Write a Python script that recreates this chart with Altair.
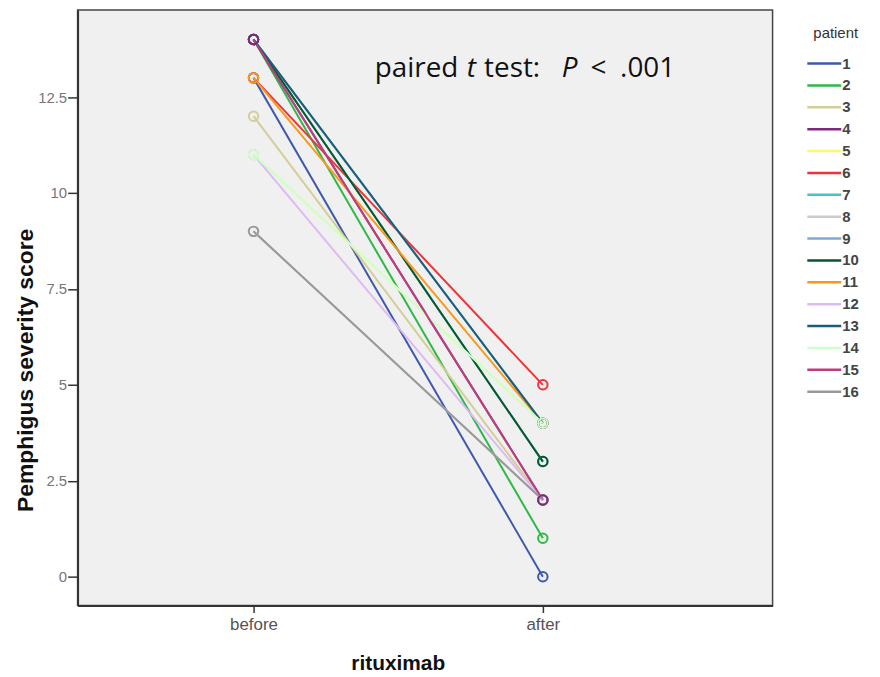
import altair as alt
import pandas as pd

# ---- data ----
patients = [str(p) for p in range(1, 17)]
phases = ["before", "after"]
score_before = [13, 14, 12, 14, 11, 13, 14, 9, 14, 14, 13, 11, 14, 11, 14, 9]
score_after = [0, 1, 2, 2, 4, 5, 3, 2, 4, 3, 4, 2, 4, 4, 2, 2]
patient_colors = ["#3E58AC", "#2EB848", "#D3CE97", "#7C287D", "#FBF873", "#EF3338",
                  "#48C2C5", "#CCCCCC", "#7AAAD5", "#0A562C", "#F8981D", "#DDBAF1",
                  "#1A5F76", "#CCFFCC", "#BB3F7F", "#999999"]
annot_pieces = ["paired", "t", "test:", "P", "<", ".001"]
annot_italic = [False, True, False, True, False, False]

rows = []
for i, p in enumerate(patients):
    for j, (ph, val) in enumerate(zip(phases, [score_before[i], score_after[i]])):
        rows.append({"patient": p, "phase": ph, "phase_idx": j, "score": val,
                     "z": 17 if p == "4" else int(p)})
df = pd.DataFrame(rows)

annot_x = [0.419, 0.737, 0.797, 1.065, 1.165, 1.267]
annot = pd.DataFrame({"text": annot_pieces, "italic": annot_italic,
                      "x": annot_x, "y": [13.03] * len(annot_pieces)})

xscale = alt.Scale(domain=[-0.608, 1.794], nice=False, zero=False)
yscale = alt.Scale(domain=[-0.75, 14.77], nice=False, zero=False)
cscale = alt.Scale(domain=patients, range=patient_colors)

label_font = "Liberation Sans"

x_enc = alt.X("phase_idx:Q", scale=xscale,
              axis=alt.Axis(values=[0, 1],
                            labelExpr="datum.value == 0 ? 'before' : 'after'",
                            title="rituximab", grid=False,
                            titleFontSize=21, titleFontWeight="bold", titleColor="#111",
                            titleFont=label_font, titleX=322, titleY=58,
                            titleBaseline="middle", titleAlign="center",
                            labelFont=label_font, labelFontSize=17, labelColor="#555",
                            labelPadding=4,
                            tickSize=7, tickColor="#333", tickWidth=1.5,
                            domainColor="#333", domainWidth=2))
y_enc = alt.Y("score:Q", scale=yscale,
              axis=alt.Axis(values=[0, 2.5, 5, 7.5, 10, 12.5], format=".1~f",
                            title="Pemphigus severity score", grid=False,
                            titleFontSize=23, titleFontWeight="bold", titleColor="#111",
                            titleFont=label_font, titleX=-52, titleY=362,
                            titleAngle=-90, titleAlign="center", titleBaseline="middle",
                            labelFont=label_font, labelFontSize=15, labelColor="#777",
                            labelPadding=1,
                            tickSize=10, tickColor="#333", tickWidth=1.5,
                            domainColor="#333", domainWidth=2))

lines = alt.Chart(df).mark_line(strokeWidth=2).encode(
    x=x_enc, y=y_enc,
    color=alt.Color("patient:N", scale=cscale,
                    legend=alt.Legend(title="patient", orient="none",
                                      legendX=740, legendY=16,
                                      symbolType="M-1.8,0L1.8,0", symbolSize=360,
                                      symbolStrokeWidth=2.5,
                                      titleFont=label_font, titleFontSize=15,
                                      titleFontWeight="normal", titleColor="#333",
                                      titlePadding=12,
                                      labelFont=label_font, labelFontSize=15,
                                      labelFontWeight="bold", labelColor="#444",
                                      rowPadding=3, labelOffset=7)),
    detail="patient:N",
)

points = alt.Chart(df).mark_point(shape="circle", filled=False, size=90,
                                  strokeWidth=2, opacity=1).encode(
    x="phase_idx:Q", y="score:Q",
    color=alt.Color("patient:N", scale=cscale, legend=None),
    order=alt.Order("z:Q"),
)

txt_normal = alt.Chart(annot).transform_filter("!datum.italic").mark_text(
    font="Open Sans", fontSize=28, align="left", baseline="alphabetic", color="#111"
).encode(x="x:Q", y="y:Q", text="text:N")
txt_italic = alt.Chart(annot).transform_filter("datum.italic").mark_text(
    font="Open Sans", fontSize=28, fontStyle="italic", align="left",
    baseline="alphabetic", color="#111"
).encode(x="x:Q", y="y:Q", text="text:N")

chart = alt.layer(lines, points, txt_normal, txt_italic).properties(
    width=699, height=599,
    autosize=alt.AutoSizeParams(type="none"),
    padding={"left": 70, "top": 0, "right": 100, "bottom": 70},
    background="white",
).configure_view(fill="#F0F0F0", stroke="#444", strokeWidth=1.5)

chart.save("out.html", embed_options={"renderer": "svg", "actions": False})
